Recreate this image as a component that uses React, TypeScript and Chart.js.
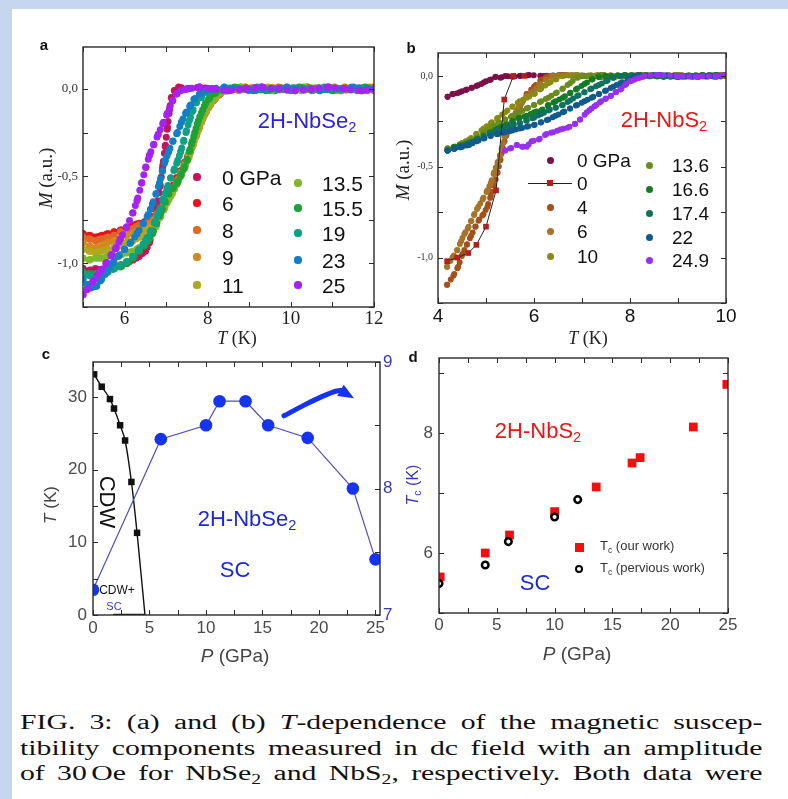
import React, { useEffect, useRef } from "react";
import { Chart, registerables } from "chart.js";

Chart.register(...registerables);

type Pt = [number, number];

// ---------------- Panel a : 2H-NbSe2, M (a.u.) vs T (K) ----------------
const A_LABELS = ["0 GPa", "6", "8", "9", "11", "13.5", "15.5", "19", "23", "25"];
const A_COLORS = ["#c4145a", "#e8141c", "#de6a26", "#d28a1e", "#b2a81e", "#80b82c", "#1fa234", "#0fa184", "#147ec4", "#a324f2"];

const A_0: Pt[] = [[5.0,-1.03],[5.15,-1.04],[5.3,-1.03],[5.45,-1.04],[5.6,-1.03],[5.75,-1.02],[5.9,-1.01],[6.05,-1.0],[6.2,-0.98],[6.35,-0.96],[6.5,-0.93],[6.6,-0.88],[6.7,-0.79],[6.78,-0.68],[6.85,-0.56],[6.92,-0.44],[6.98,-0.33],[7.03,-0.22],[7.08,-0.12],[7.13,-0.05],[7.2,-0.01],[7.3,0.01],[7.5,0.0],[7.8,0.01],[8.1,0.0],[8.5,-0.01],[8.9,0.0],[9.3,0.01],[9.7,0.0],[10.1,-0.01],[10.5,0.0],[10.9,0.01],[11.3,0.0],[11.7,-0.01],[12.0,0.0]];
const A_6: Pt[] = [[5.0,-0.83],[5.15,-0.84],[5.3,-0.85],[5.45,-0.84],[5.6,-0.83],[5.75,-0.82],[5.9,-0.81],[6.05,-0.8],[6.2,-0.78],[6.35,-0.77],[6.5,-0.76],[6.65,-0.73],[6.8,-0.7],[6.93,-0.66],[7.05,-0.6],[7.15,-0.56],[7.25,-0.51],[7.35,-0.47],[7.45,-0.42],[7.55,-0.37],[7.62,-0.32],[7.7,-0.27],[7.78,-0.22],[7.87,-0.17],[7.95,-0.13],[8.05,-0.09],[8.15,-0.06],[8.27,-0.03],[8.4,-0.01],[8.6,0.0],[8.9,0.01],[9.2,0.0],[9.6,-0.01],[10.0,0.0],[10.4,0.01],[10.8,0.0],[11.2,-0.01],[11.6,0.0],[12.0,0.01]];
const A_8: Pt[] = [[5.0,-0.85],[5.15,-0.86],[5.3,-0.87],[5.45,-0.86],[5.6,-0.85],[5.75,-0.84],[5.9,-0.82],[6.05,-0.81],[6.2,-0.8],[6.35,-0.78],[6.5,-0.77],[6.65,-0.75],[6.8,-0.71],[6.93,-0.67],[7.05,-0.62],[7.15,-0.57],[7.25,-0.53],[7.35,-0.48],[7.45,-0.43],[7.55,-0.38],[7.63,-0.33],[7.72,-0.27],[7.8,-0.22],[7.88,-0.17],[7.97,-0.13],[8.07,-0.09],[8.17,-0.06],[8.3,-0.03],[8.45,-0.01],[8.7,0.0],[9.0,-0.01],[9.35,0.0],[9.7,0.01],[10.1,0.0],[10.5,-0.01],[10.9,0.0],[11.3,0.01],[11.7,0.0],[12.0,-0.01]];
const A_9: Pt[] = [[5.0,-0.88],[5.15,-0.9],[5.3,-0.91],[5.45,-0.9],[5.6,-0.88],[5.75,-0.87],[5.9,-0.86],[6.05,-0.84],[6.2,-0.83],[6.35,-0.81],[6.5,-0.79],[6.65,-0.77],[6.8,-0.73],[6.93,-0.68],[7.05,-0.63],[7.15,-0.59],[7.25,-0.54],[7.35,-0.49],[7.45,-0.44],[7.55,-0.38],[7.63,-0.33],[7.72,-0.27],[7.8,-0.22],[7.9,-0.16],[7.98,-0.12],[8.08,-0.08],[8.2,-0.05],[8.33,-0.02],[8.5,0.0],[8.8,0.01],[9.1,0.0],[9.5,-0.01],[9.9,0.0],[10.3,0.01],[10.7,0.0],[11.1,-0.01],[11.5,0.0],[11.9,0.01]];
const A_11: Pt[] = [[5.0,-0.92],[5.15,-0.93],[5.3,-0.94],[5.45,-0.93],[5.6,-0.92],[5.75,-0.91],[5.9,-0.9],[6.05,-0.88],[6.2,-0.87],[6.35,-0.85],[6.5,-0.82],[6.65,-0.79],[6.8,-0.75],[6.93,-0.69],[7.05,-0.64],[7.15,-0.6],[7.25,-0.55],[7.35,-0.5],[7.45,-0.45],[7.55,-0.39],[7.65,-0.32],[7.75,-0.25],[7.85,-0.19],[7.95,-0.13],[8.05,-0.09],[8.17,-0.05],[8.3,-0.02],[8.45,0.0],[8.75,-0.01],[9.05,0.0],[9.45,0.01],[9.85,0.0],[10.25,-0.01],[10.65,0.0],[11.05,0.01],[11.45,0.0],[11.85,-0.01]];
const A_13_5: Pt[] = [[5.0,-0.97],[5.15,-0.98],[5.3,-0.97],[5.45,-0.97],[5.6,-0.96],[5.75,-0.96],[5.9,-0.95],[6.05,-0.94],[6.2,-0.93],[6.35,-0.91],[6.5,-0.88],[6.62,-0.84],[6.75,-0.79],[6.87,-0.73],[6.97,-0.68],[7.07,-0.63],[7.17,-0.58],[7.27,-0.54],[7.37,-0.49],[7.47,-0.43],[7.57,-0.36],[7.66,-0.29],[7.75,-0.23],[7.84,-0.17],[7.93,-0.12],[8.03,-0.08],[8.15,-0.05],[8.3,-0.02],[8.5,0.0],[8.8,0.01],[9.15,0.0],[9.55,-0.01],[9.95,0.0],[10.35,0.01],[10.75,0.0],[11.15,-0.01],[11.55,0.0],[11.95,0.0]];
const A_15_5: Pt[] = [[5.0,-1.05],[5.15,-1.06],[5.3,-1.06],[5.45,-1.05],[5.6,-1.04],[5.75,-1.03],[5.9,-1.02],[6.05,-1.0],[6.2,-0.97],[6.35,-0.93],[6.47,-0.9],[6.57,-0.87],[6.67,-0.83],[6.77,-0.77],[6.87,-0.71],[6.97,-0.65],[7.06,-0.6],[7.16,-0.57],[7.26,-0.54],[7.34,-0.5],[7.42,-0.46],[7.5,-0.41],[7.57,-0.35],[7.63,-0.3],[7.69,-0.25],[7.75,-0.2],[7.81,-0.16],[7.88,-0.12],[7.95,-0.08],[8.05,-0.05],[8.2,-0.02],[8.4,0.0],[8.65,0.01],[9.0,0.0],[9.4,-0.01],[9.8,0.0],[10.2,0.01],[10.6,0.0],[11.0,-0.01],[11.4,0.0],[11.8,0.01]];
const A_19: Pt[] = [[5.0,-1.06],[5.15,-1.07],[5.3,-1.08],[5.45,-1.07],[5.6,-1.05],[5.75,-1.03],[5.9,-1.01],[6.05,-0.99],[6.2,-0.96],[6.35,-0.92],[6.5,-0.87],[6.62,-0.82],[6.73,-0.76],[6.83,-0.7],[6.93,-0.63],[7.02,-0.57],[7.11,-0.51],[7.2,-0.46],[7.28,-0.41],[7.35,-0.36],[7.42,-0.3],[7.49,-0.24],[7.56,-0.18],[7.63,-0.13],[7.72,-0.08],[7.83,-0.05],[7.97,-0.02],[8.15,0.0],[8.45,-0.01],[8.8,0.0],[9.2,0.01],[9.6,0.0],[10.0,-0.01],[10.4,0.0],[10.8,0.01],[11.2,0.0],[11.6,-0.01],[12.0,0.0]];
const A_23: Pt[] = [[5.0,-1.09],[5.1,-1.12],[5.2,-1.14],[5.33,-1.13],[5.45,-1.09],[5.57,-1.05],[5.7,-1.0],[5.85,-0.96],[6.0,-0.92],[6.15,-0.88],[6.3,-0.83],[6.45,-0.77],[6.57,-0.72],[6.67,-0.66],[6.76,-0.6],[6.84,-0.54],[6.91,-0.47],[6.98,-0.41],[7.06,-0.36],[7.16,-0.3],[7.27,-0.25],[7.37,-0.19],[7.47,-0.14],[7.57,-0.1],[7.67,-0.06],[7.8,-0.03],[7.95,-0.01],[8.1,0.0],[8.4,0.01],[8.75,0.0],[9.1,-0.01],[9.5,0.0],[9.9,0.01],[10.3,0.0],[10.7,-0.01],[11.1,0.0],[11.5,0.01],[11.9,0.0]];
const A_25: Pt[] = [[5.0,-1.18],[5.1,-1.15],[5.25,-1.1],[5.4,-1.05],[5.55,-1.0],[5.69,-0.95],[5.8,-0.91],[5.9,-0.86],[6.05,-0.79],[6.2,-0.71],[6.3,-0.64],[6.41,-0.54],[6.51,-0.45],[6.6,-0.38],[6.7,-0.32],[6.81,-0.26],[6.92,-0.2],[7.03,-0.14],[7.15,-0.07],[7.25,-0.03],[7.35,-0.01],[7.5,0.0],[7.8,0.01],[8.1,0.0],[8.5,-0.01],[8.9,0.0],[9.3,0.01],[9.7,0.0],[10.1,-0.01],[10.5,0.0],[10.9,0.01],[11.3,0.0],[11.7,-0.01],[12.0,0.0]];
const A_SERIES = [A_0, A_6, A_8, A_9, A_11, A_13_5, A_15_5, A_19, A_23, A_25];

const A_X_TICKS = [5, 6, 7, 8, 9, 10, 11, 12];
const A_X_LABELS = ["", "6", "", "8", "", "10", "", "12"];
const A_Y_TICKS = [-1.25, -1, -0.75, -0.5, -0.25, 0];
const A_Y_LABELS = ["", "-1,0", "", "-0,5", "", "0,0"];

// ---------------- Panel b : 2H-NbS2, M (a.u.) vs T (K) ----------------
const B_LABELS = ["0 GPa", "0", "4", "6", "10", "13.6", "16.6", "17.4", "22", "24.9"];
const B_COLORS = ["#7c1048", "#b41e1e", "#a4501c", "#a4742a", "#8a8a16", "#6a8c1e", "#157a26", "#10705e", "#125a8c", "#9630f2"];

const B_0: Pt[] = [[4.2,-0.115],[4.3,-0.1],[4.4,-0.095],[4.5,-0.085],[4.6,-0.075],[4.7,-0.065],[4.8,-0.055],[4.9,-0.045],[5.0,-0.03],[5.1,-0.02],[5.2,-0.005],[5.3,-0.01],[5.4,0.0],[5.55,-0.005],[5.7,0.0],[5.9,0.005],[6.2,0.0],[6.6,0.005],[7.0,0.0],[7.4,-0.005],[7.8,0.0],[8.2,0.005],[8.6,0.0],[9.0,-0.005],[9.4,0.0],[9.8,0.005],[10.0,0.0]];
const B_0_LINE: Pt[] = [[4.19,-1.02],[4.4,-1.0],[4.63,-0.975],[4.8,-0.93],[5.0,-0.83],[5.21,-0.63],[5.38,-0.13],[5.57,0.0],[5.8,0.0]];
const B_4: Pt[] = [[4.19,-1.15],[4.32,-1.1],[4.42,-1.05],[4.51,-0.98],[4.6,-0.93],[4.69,-0.88],[4.78,-0.83],[4.86,-0.79],[4.95,-0.76],[5.03,-0.72],[5.1,-0.66],[5.17,-0.6],[5.24,-0.53],[5.3,-0.46],[5.34,-0.4],[5.42,-0.33],[5.55,-0.25],[5.7,-0.17],[5.85,-0.1],[6.0,-0.06],[6.15,-0.02],[6.3,0.0],[6.6,0.005],[7.0,0.0],[7.4,0.005],[7.8,0.0],[8.2,-0.005],[8.6,0.0],[9.0,0.005],[9.4,0.0],[9.8,-0.005],[10.0,0.0]];
const B_6: Pt[] = [[4.19,-1.05],[4.3,-1.0],[4.4,-0.96],[4.48,-0.91],[4.55,-0.87],[4.62,-0.84],[4.69,-0.8],[4.76,-0.76],[4.84,-0.72],[4.93,-0.68],[5.03,-0.63],[5.1,-0.59],[5.17,-0.53],[5.24,-0.48],[5.29,-0.44],[5.33,-0.4],[5.4,-0.33],[5.5,-0.27],[5.64,-0.19],[5.74,-0.15],[5.85,-0.11],[5.99,-0.086],[6.1,-0.05],[6.25,-0.02],[6.4,0.0],[6.7,0.005],[7.1,0.0],[7.5,-0.005],[7.9,0.0],[8.3,0.005],[8.7,0.0],[9.1,-0.005],[9.5,0.0],[9.9,0.005]];
const B_10: Pt[] = [[4.2,-0.4],[4.35,-0.39],[4.5,-0.37],[4.65,-0.35],[4.8,-0.32],[4.95,-0.29],[5.1,-0.26],[5.25,-0.23],[5.4,-0.2],[5.55,-0.17],[5.7,-0.14],[5.85,-0.12],[6.0,-0.1],[6.15,-0.07],[6.3,-0.04],[6.45,-0.02],[6.6,0.0],[6.9,0.005],[7.3,0.0],[7.7,-0.005],[8.1,0.0],[8.5,0.005],[8.9,0.0],[9.3,-0.005],[9.7,0.0],[10.0,0.005]];
const B_13_6: Pt[] = [[4.2,-0.4],[4.35,-0.39],[4.5,-0.38],[4.65,-0.36],[4.8,-0.34],[4.95,-0.31],[5.1,-0.29],[5.25,-0.26],[5.4,-0.24],[5.55,-0.22],[5.7,-0.2],[5.85,-0.18],[6.0,-0.16],[6.15,-0.14],[6.3,-0.12],[6.45,-0.095],[6.6,-0.07],[6.75,-0.04],[6.9,-0.01],[7.05,0.0],[7.4,0.005],[7.8,0.0],[8.2,-0.005],[8.6,0.0],[9.0,0.005],[9.4,0.0],[9.8,-0.005]];
const B_16_6: Pt[] = [[4.2,-0.41],[4.35,-0.39],[4.5,-0.38],[4.65,-0.37],[4.8,-0.35],[4.95,-0.33],[5.1,-0.31],[5.25,-0.29],[5.4,-0.27],[5.55,-0.25],[5.7,-0.23],[5.85,-0.22],[6.0,-0.2],[6.15,-0.19],[6.3,-0.16],[6.45,-0.14],[6.6,-0.12],[6.75,-0.095],[6.9,-0.07],[7.05,-0.045],[7.2,-0.02],[7.35,-0.005],[7.5,0.0],[7.9,0.005],[8.3,0.0],[8.7,-0.005],[9.1,0.0],[9.5,0.005],[9.9,0.0]];
const B_17_4: Pt[] = [[4.2,-0.41],[4.35,-0.4],[4.5,-0.39],[4.65,-0.37],[4.8,-0.36],[4.95,-0.34],[5.1,-0.32],[5.25,-0.3],[5.4,-0.29],[5.55,-0.27],[5.7,-0.26],[5.85,-0.245],[6.0,-0.23],[6.15,-0.21],[6.3,-0.19],[6.45,-0.175],[6.6,-0.16],[6.75,-0.135],[6.9,-0.11],[7.05,-0.09],[7.2,-0.07],[7.35,-0.05],[7.5,-0.03],[7.65,-0.01],[7.8,0.0],[8.2,0.005],[8.6,0.0],[9.0,-0.005],[9.4,0.0],[9.8,0.005]];
const B_22: Pt[] = [[4.2,-0.41],[4.35,-0.4],[4.5,-0.39],[4.65,-0.38],[4.8,-0.36],[4.95,-0.345],[5.1,-0.33],[5.25,-0.32],[5.4,-0.31],[5.55,-0.3],[5.7,-0.29],[5.85,-0.28],[6.0,-0.27],[6.15,-0.255],[6.3,-0.24],[6.45,-0.22],[6.6,-0.2],[6.75,-0.18],[6.9,-0.16],[7.05,-0.14],[7.2,-0.12],[7.35,-0.1],[7.5,-0.08],[7.65,-0.06],[7.8,-0.04],[7.95,-0.02],[8.1,-0.005],[8.25,0.0],[8.6,0.005],[9.0,0.0],[9.4,-0.005],[9.8,0.0],[10.0,0.005]];
const B_24_9: Pt[] = [[5.4,-0.41],[5.5,-0.4],[5.64,-0.38],[5.75,-0.39],[5.85,-0.39],[5.95,-0.36],[6.1,-0.35],[6.26,-0.32],[6.4,-0.31],[6.55,-0.295],[6.7,-0.285],[6.85,-0.265],[6.96,-0.24],[7.1,-0.2],[7.2,-0.18],[7.3,-0.16],[7.4,-0.14],[7.5,-0.125],[7.6,-0.11],[7.7,-0.09],[7.8,-0.075],[7.9,-0.05],[8.0,-0.03],[8.1,-0.02],[8.2,-0.01],[8.3,0.0],[8.6,0.005],[9.0,0.0],[9.4,-0.005],[9.8,0.0],[10.0,0.005]];
const B_DOT_SERIES = [B_0, null, B_4, B_6, B_10, B_13_6, B_16_6, B_17_4, B_22, B_24_9];

const B_X_TICKS = [4, 5, 6, 7, 8, 9, 10];
const B_X_LABELS = ["4", "", "6", "", "8", "", "10"];
const B_Y_TICKS = [-1.25, -1, -0.75, -0.5, -0.25, 0];
const B_Y_LABELS = ["", "-1,0", "", "-0,5", "", "0,0"];

// ---------------- Panel c : 2H-NbSe2 phase diagram ----------------
const C_CDW_P = [0.1, 0.77, 1.5, 1.86, 2.4, 2.84, 3.4, 3.9];
const C_CDW_T = [33.1, 31.4, 29.7, 28.4, 26.1, 24.0, 18.3, 11.3];
const C_CDW_END: Pt = [4.6, 0];
const C_BASE_P = [1.8, 4.6];
const C_BASE_T = [0, 0];
const C_SC_P = [0, 6, 10, 11.2, 13.5, 15.5, 19, 23, 25];
const C_SC_TC = [7.2, 8.39, 8.5, 8.69, 8.69, 8.5, 8.4, 8.0, 7.44];
const C_ARROW_P = [16.9, 18.6, 20.2, 21.3, 21.9];
const C_ARROW_T = [27.4, 28.8, 30.0, 30.7, 30.9];
const C_ARROW_TIP: Pt = [23.1, 29.8];

const C_X_TICKS = [0, 2.5, 5, 7.5, 10, 12.5, 15, 17.5, 20, 22.5, 25];
const C_X_LABELS = ["0", "", "5", "", "10", "", "15", "", "20", "", "25"];
const C_Y_TICKS = [0, 5, 10, 15, 20, 25, 30];
const C_Y_LABELS = ["0", "", "10", "", "20", "", "30"];
const C_Y2_TICKS = [7, 7.5, 8, 8.5, 9];
const C_Y2_LABELS = ["7", "", "8", "", "9"];

// ---------------- Panel d : 2H-NbS2, Tc vs P ----------------
const D_OUR_P = [0.1, 4, 6.1, 10, 13.6, 16.7, 17.4, 22, 24.9];
const D_OUR_TC = [5.6, 6.0, 6.3, 6.69, 7.1, 7.5, 7.59, 8.1, 8.81];
const D_PREV_P = [0, 4, 6, 10, 12];
const D_PREV_TC = [5.49, 5.8, 6.19, 6.6, 6.89];

const D_X_TICKS = [0, 2.5, 5, 7.5, 10, 12.5, 15, 17.5, 20, 22.5, 25];
const D_X_LABELS = ["0", "", "5", "", "10", "", "15", "", "20", "", "25"];
const D_Y_TICKS = [5, 6, 7, 8, 9];
const D_Y_LABELS = ["", "6", "", "8", ""];

// ---------------- helpers ----------------
const toXY = (pts: Pt[]) => pts.map(([x, y]) => ({ x, y }));
const zip = (xs: number[], ys: number[]) => xs.map((x, i) => ({ x, y: ys[i] }));

const SANS = "'Liberation Sans', Arial, sans-serif";
const SERIF = "'Liberation Serif', 'Times New Roman', serif";

function linAxis(o: any) {
  return {
    type: "linear",
    position: o.position,
    min: o.min,
    max: o.max,
    afterBuildTicks: (sc: any) => {
      sc.ticks = o.ticks.map((v: number) => ({ value: v }));
    },
    afterFit: (sc: any) => {
      if (o.horizontal) sc.height = o.size;
      else sc.width = o.size;
    },
    grid: { display: false, drawTicks: false },
    border: { display: false },
    ticks: {
      autoSkip: false,
      maxRotation: 0,
      minRotation: 0,
      padding: o.pad,
      color: o.color,
      font: o.font,
      callback: (_v: any, i: number) => o.labels[i],
    },
  };
}

function frameTicks(spec: Record<string, string[]>, len: number) {
  return {
    id: "frameTicks",
    afterDraw(chart: any) {
      const { ctx, chartArea: ca } = chart;
      ctx.save();
      ctx.strokeStyle = "#2a2a2a";
      ctx.lineWidth = 1;
      ctx.beginPath();
      for (const id of Object.keys(spec)) {
        const sc = chart.scales[id];
        const sides = spec[id];
        for (const t of sc.ticks) {
          const p = Math.round(sc.getPixelForValue(t.value)) + 0.5;
          if (sc.isHorizontal()) {
            if (sides.includes("bottom")) { ctx.moveTo(p, ca.bottom); ctx.lineTo(p, ca.bottom - len); }
            if (sides.includes("top")) { ctx.moveTo(p, ca.top); ctx.lineTo(p, ca.top + len); }
          } else {
            if (sides.includes("left")) { ctx.moveTo(ca.left, p); ctx.lineTo(ca.left + len, p); }
            if (sides.includes("right")) { ctx.moveTo(ca.right, p); ctx.lineTo(ca.right - len, p); }
          }
        }
      }
      ctx.stroke();
      ctx.lineWidth = 1.4;
      ctx.strokeRect(ca.left, ca.top, ca.right - ca.left, ca.bottom - ca.top);
      ctx.restore();
    },
  };
}

// arrow head for panel c, drawn from the arrow dataset's last point to the tip value
const arrowHead = {
  id: "arrowHead",
  afterDatasetsDraw(chart: any) {
    const { ctx } = chart;
    const xs = chart.scales.x;
    const ys = chart.scales.y;
    const n = C_ARROW_P.length - 1;
    const bx = xs.getPixelForValue(C_ARROW_P[n]);
    const by = ys.getPixelForValue(C_ARROW_T[n]);
    const tx = xs.getPixelForValue(C_ARROW_TIP[0]);
    const ty = ys.getPixelForValue(C_ARROW_TIP[1]);
    const ang = Math.atan2(ty - by, tx - bx);
    const w = 6.5;
    ctx.save();
    ctx.fillStyle = "#1634ee";
    ctx.beginPath();
    ctx.moveTo(tx, ty);
    ctx.lineTo(bx - w * Math.sin(ang), by + w * Math.cos(ang));
    ctx.lineTo(bx + w * Math.sin(ang), by - w * Math.cos(ang));
    ctx.closePath();
    ctx.fill();
    ctx.restore();
  },
};

function baseOptions(padding: any, scales: any) {
  return {
    animation: false,
    responsive: false,
    maintainAspectRatio: false,
    devicePixelRatio: 1,
    events: [],
    layout: { padding },
    plugins: { legend: { display: false }, tooltip: { enabled: false } },
    scales,
  };
}

// ---------------- chart builders ----------------
function buildA() {
  const datasets = A_SERIES.map((pts, i) => ({
    label: A_LABELS[i],
    data: toXY(pts),
    showLine: true,
    borderColor: A_COLORS[i],
    backgroundColor: A_COLORS[i],
    borderWidth: 7,
    borderDash: [0, 8],
    borderCapStyle: "round",
    borderJoinStyle: "round",
    pointRadius: 3.6,
    pointBorderWidth: 0,
    pointBackgroundColor: A_COLORS[i],
  })).reverse();
  return {
    type: "scatter",
    data: { datasets },
    options: baseOptions({ left: 0, top: 38, right: 26, bottom: 0 }, {
      x: linAxis({ horizontal: true, min: 5, max: 12, ticks: A_X_TICKS, labels: A_X_LABELS, size: 33, pad: 1, color: "#222", font: { family: SERIF, size: 19 } }),
      y: linAxis({ horizontal: false, min: -1.25, max: 0.24, ticks: A_Y_TICKS, labels: A_Y_LABELS, size: 71, pad: 5, color: "#333", font: { family: SERIF, size: 13 } }),
    }),
    plugins: [frameTicks({ x: ["bottom", "top"], y: ["left", "right"] }, 5)],
  };
}

function buildB() {
  const datasets: any[] = [];
  B_DOT_SERIES.forEach((pts, i) => {
    if (pts === null) {
      datasets.push({
        label: B_LABELS[i],
        data: toXY(B_0_LINE),
        showLine: true,
        borderColor: "#222",
        borderWidth: 1,
        pointStyle: "rect",
        pointRadius: 4,
        pointBorderWidth: 0,
        pointBackgroundColor: B_COLORS[i],
      });
    } else {
      datasets.push({
        label: B_LABELS[i],
        data: toXY(pts),
        showLine: true,
        borderColor: B_COLORS[i],
        backgroundColor: B_COLORS[i],
        borderWidth: 6,
        borderDash: [0, 6.5],
        borderCapStyle: "round",
        borderJoinStyle: "round",
        pointRadius: 3,
        pointBorderWidth: 0,
        pointBackgroundColor: B_COLORS[i],
      });
    }
  });
  const lineDs = datasets.splice(1, 1)[0];
  const ordered = [lineDs, ...datasets.reverse()];
  return {
    type: "scatter",
    data: { datasets: ordered },
    options: baseOptions({ left: 0, top: 44, right: 62, bottom: 0 }, {
      x: linAxis({ horizontal: true, min: 4, max: 10, ticks: B_X_TICKS, labels: B_X_LABELS, size: 37, pad: 2, color: "#111", font: { family: SANS, size: 19 } }),
      y: linAxis({ horizontal: false, min: -1.25, max: 0.126, ticks: B_Y_TICKS, labels: B_Y_LABELS, size: 38, pad: 5, color: "#333", font: { family: SERIF, size: 10 } }),
    }),
    plugins: [frameTicks({ x: ["bottom", "top"], y: ["left", "right"] }, 5)],
  };
}

function buildC() {
  const blue = "#1634ee";
  const datasets = [
    {
      label: "SC",
      data: zip(C_SC_P, C_SC_TC),
      yAxisID: "y2",
      showLine: true,
      borderColor: "#4e4ec4",
      borderWidth: 1.2,
      pointRadius: 6.3,
      pointBorderWidth: 0,
      pointBackgroundColor: blue,
    },
    {
      label: "arrow",
      data: zip(C_ARROW_P, C_ARROW_T),
      yAxisID: "y",
      showLine: true,
      borderColor: blue,
      borderWidth: 5,
      borderCapStyle: "round",
      tension: 0.3,
      pointRadius: 0,
    },
    {
      label: "CDW points",
      data: zip(C_CDW_P, C_CDW_T),
      yAxisID: "y",
      showLine: false,
      pointStyle: "rect",
      pointRadius: 4.6,
      pointBorderWidth: 0,
      pointBackgroundColor: "#111",
    },
    {
      label: "CDW boundary",
      data: [...zip(C_CDW_P, C_CDW_T), { x: C_CDW_END[0], y: C_CDW_END[1] }],
      yAxisID: "y",
      showLine: true,
      borderColor: "#111",
      borderWidth: 1.4,
      cubicInterpolationMode: "monotone",
      pointRadius: 0,
    },
    {
      label: "base",
      data: zip(C_BASE_P, C_BASE_T),
      yAxisID: "y",
      showLine: true,
      borderColor: "#111",
      borderWidth: 2.5,
      pointRadius: 0,
    },
  ];
  return {
    type: "scatter",
    data: { datasets },
    options: baseOptions({ left: 0, top: 22, right: 0, bottom: 0 }, {
      x: linAxis({ horizontal: true, min: 0, max: 25.4, ticks: C_X_TICKS, labels: C_X_LABELS, size: 55, pad: 3, color: "#4a4a4a", font: { family: SANS, size: 17 } }),
      y: linAxis({ horizontal: false, position: "left", min: 0, max: 34.8, ticks: C_Y_TICKS, labels: C_Y_LABELS, size: 81, pad: 6, color: "#4a4a4a", font: { family: SANS, size: 17 } }),
      y2: linAxis({ horizontal: false, position: "right", min: 7, max: 9, ticks: C_Y2_TICKS, labels: C_Y2_LABELS, size: 20, pad: 3, color: "#3a3ab8", font: { family: SANS, size: 17 } }),
    }),
    plugins: [arrowHead, frameTicks({ x: ["bottom", "top"], y: ["left"], y2: ["right"] }, 5)],
  };
}

function buildD() {
  const datasets = [
    {
      label: "Tc (pervious work)",
      data: zip(D_PREV_P, D_PREV_TC),
      showLine: false,
      pointStyle: "circle",
      pointRadius: 3.3,
      pointBorderWidth: 2.5,
      pointBorderColor: "#000",
      pointBackgroundColor: "#fff",
    },
    {
      label: "Tc (our work)",
      data: zip(D_OUR_P, D_OUR_TC),
      showLine: false,
      pointStyle: "rect",
      pointRadius: 6.2,
      pointBorderWidth: 0,
      pointBackgroundColor: "#f01010",
    },
  ];
  return {
    type: "scatter",
    data: { datasets },
    options: baseOptions({ left: 0, top: 18, right: 60, bottom: 0 }, {
      x: linAxis({ horizontal: true, min: 0, max: 25, ticks: D_X_TICKS, labels: D_X_LABELS, size: 57, pad: 2, color: "#4a4a4a", font: { family: SANS, size: 17 } }),
      y: linAxis({ horizontal: false, min: 5, max: 9.25, ticks: D_Y_TICKS, labels: D_Y_LABELS, size: 39, pad: 6, color: "#4a4a4a", font: { family: SANS, size: 17 } }),
    }),
    plugins: [frameTicks({ x: ["bottom", "top"], y: ["left", "right"] }, 5)],
  };
}

// ---------------- React components ----------------
function ChartCanvas({ left, top, width, height, build }: any) {
  const ref = useRef<HTMLCanvasElement>(null);
  useEffect(() => {
    const chart = new Chart(ref.current as HTMLCanvasElement, build());
    return () => chart.destroy();
  }, []);
  return (
    <canvas
      ref={ref}
      width={width}
      height={height}
      style={{ position: "absolute", left, top, width, height }}
    />
  );
}

function Txt({ x, y, rot = 0, style, children }: any) {
  return (
    <div
      style={{
        position: "absolute",
        left: x,
        top: y,
        transform: `translate(-50%, -50%) rotate(${rot}deg)`,
        whiteSpace: "nowrap",
        lineHeight: 1,
        ...style,
      }}
    >
      {children}
    </div>
  );
}

function LTxt({ x, y, style, children }: any) {
  return (
    <div
      style={{
        position: "absolute",
        left: x,
        top: y,
        transform: "translateY(-50%)",
        whiteSpace: "nowrap",
        lineHeight: 1,
        ...style,
      }}
    >
      {children}
    </div>
  );
}

function Dot({ x, y, r, color, square, ring }: any) {
  const s = r * 2;
  return (
    <div
      style={{
        position: "absolute",
        left: x - r,
        top: y - r,
        width: s,
        height: s,
        boxSizing: "border-box",
        borderRadius: square ? 0 : "50%",
        background: ring ? "#fff" : color,
        border: ring ? `2.5px solid ${color}` : "none",
      }}
    />
  );
}

const Sub = ({ children }: any) => (
  <span style={{ fontSize: "0.66em", verticalAlign: "-0.3em" }}>{children}</span>
);

const A_LEG_POS = [
  [197, 177], [197, 203], [197, 230], [197, 257], [197, 285],
  [298, 183], [298, 208], [298, 233], [298, 260], [298, 285],
];
const B_LEG_POS = [
  [550, 160], [550, 183], [550, 207], [550, 231], [550, 256],
  [649, 165], [649, 189], [649, 213], [649, 237], [649, 260],
];

export default function App() {
  const lblStyle = { fontFamily: SANS, fontWeight: 700, fontSize: 15, color: "#111" };
  return (
    <div style={{ position: "absolute", left: 0, top: 0, width: 788, height: 799, background: "#c7d6ef", overflow: "hidden" }}>
      <div style={{ position: "absolute", left: 12, top: 9, right: 0, bottom: 0, background: "#fff" }} />

      <ChartCanvas left={12} top={9} width={388} height={331} build={buildA} />
      <ChartCanvas left={400} top={9} width={388} height={331} build={buildB} />
      <ChartCanvas left={12} top={340} width={388} height={330} build={buildC} />
      <ChartCanvas left={400} top={340} width={388} height={330} build={buildD} />

      {/* Panel a */}
      <Txt x={44} y={44} style={lblStyle}>a</Txt>
      <Txt x={45} y={178} rot={-90} style={{ fontFamily: SERIF, fontSize: 19, color: "#222" }}>
        <i>M</i> (a.u.)
      </Txt>
      <Txt x={237} y={338} style={{ fontFamily: SERIF, fontSize: 18, color: "#222" }}>
        <i>T</i> (K)
      </Txt>
      <Txt x={307} y={122} style={{ fontFamily: SANS, fontSize: 22, color: "#2c22dc" }}>
        2H-NbSe<Sub>2</Sub>
      </Txt>
      {A_LABELS.map((l, i) => (
        <React.Fragment key={"al" + i}>
          <Dot x={A_LEG_POS[i][0]} y={A_LEG_POS[i][1]} r={3.6} color={A_COLORS[i]} />
          <LTxt x={A_LEG_POS[i][0] + (i < 5 ? 25 : 24)} y={A_LEG_POS[i][1]} style={{ fontFamily: SANS, fontSize: 21, color: "#111" }}>{l}</LTxt>
        </React.Fragment>
      ))}

      {/* Panel b */}
      <Txt x={411} y={47} style={lblStyle}>b</Txt>
      <Txt x={402} y={170} rot={-90} style={{ fontFamily: SERIF, fontSize: 19, color: "#222" }}>
        <i>M</i> (a.u.)
      </Txt>
      <Txt x={588} y={338} style={{ fontFamily: SERIF, fontSize: 18, color: "#222" }}>
        <i>T</i> (K)
      </Txt>
      <Txt x={664} y={121} style={{ fontFamily: SANS, fontSize: 22, color: "#ee1414" }}>
        2H-NbS<Sub>2</Sub>
      </Txt>
      <div style={{ position: "absolute", left: 528, top: 183, width: 44, height: 1, background: "#222" }} />
      {B_LABELS.map((l, i) => (
        <React.Fragment key={"bl" + i}>
          <Dot x={B_LEG_POS[i][0]} y={B_LEG_POS[i][1]} r={i === 1 ? 3 : 3.5} square={i === 1} color={B_COLORS[i]} />
          <LTxt x={B_LEG_POS[i][0] + (i < 5 ? 27 : 23)} y={B_LEG_POS[i][1]} style={{ fontFamily: SANS, fontSize: 19, color: "#111" }}>{l}</LTxt>
        </React.Fragment>
      ))}

      {/* Panel c */}
      <Txt x={46} y={353} style={lblStyle}>c</Txt>
      <Txt x={50} y={505} rot={-90} style={{ fontFamily: SANS, fontSize: 17, color: "#444" }}>
        <i>T</i> (K)
      </Txt>
      <Txt x={235} y={655} style={{ fontFamily: SANS, fontSize: 19, color: "#444" }}>
        <i>P</i> (GPa)
      </Txt>
      <Txt x={414} y={485} rot={-90} style={{ fontFamily: SANS, fontSize: 16, color: "#3a3ab8" }}>
        <i>T</i><Sub>c</Sub> (K)
      </Txt>
      <Txt x={107} y={502} rot={90} style={{ fontFamily: SANS, fontSize: 22, color: "#111" }}>CDW</Txt>
      <Txt x={247} y={520} style={{ fontFamily: SANS, fontSize: 22, color: "#1c2ad6" }}>
        2H-NbSe<Sub>2</Sub>
      </Txt>
      <Txt x={235} y={570} style={{ fontFamily: SANS, fontSize: 22, color: "#1c2ad6" }}>SC</Txt>
      <Txt x={117} y={590} style={{ fontFamily: SANS, fontSize: 12, color: "#111" }}>CDW+</Txt>
      <Txt x={114} y={606} style={{ fontFamily: SANS, fontSize: 11, color: "#3a3ab8" }}>SC</Txt>

      {/* Panel d */}
      <Txt x={413} y={356} style={lblStyle}>d</Txt>
      <Txt x={577} y={653} style={{ fontFamily: SANS, fontSize: 19, color: "#444" }}>
        <i>P</i> (GPa)
      </Txt>
      <Txt x={538} y={432} style={{ fontFamily: SANS, fontSize: 22, color: "#ee1414" }}>
        2H-NbS<Sub>2</Sub>
      </Txt>
      <Txt x={535} y={583} style={{ fontFamily: SANS, fontSize: 22, color: "#1c2ad6" }}>SC</Txt>
      <Dot x={579} y={547} r={4.5} square color="#f01010" />
      <LTxt x={600} y={547} style={{ fontFamily: SANS, fontSize: 13, color: "#333" }}>
        T<Sub>c</Sub> (our work)
      </LTxt>
      <Dot x={579} y={569} r={4.4} ring color="#000" />
      <LTxt x={600} y={569} style={{ fontFamily: SANS, fontSize: 13, color: "#333" }}>
        T<Sub>c</Sub> (pervious work)
      </LTxt>

      {/* Caption */}
      <div style={{ position: "absolute", left: 20, top: 710, fontFamily: SERIF, fontSize: 20.5, lineHeight: "25.5px", color: "#111" }}>
        {[
          <>FIG. 3: (a) and (b) <i>T</i>-dependence of the magnetic suscep-</>,
          <>tibility components measured in dc field with an amplitude</>,
          <>of 30<span style={{ marginLeft: 3 }}>Oe</span> for NbSe<Sub>2</Sub> and NbS<Sub>2</Sub>, respectively. Both data were</>,
        ].map((line, i) => (
          <div
            key={"cap" + i}
            style={{
              width: 512,
              height: 25.5,
              textAlign: "justify",
              textAlignLast: "justify",
              transform: "scaleX(1.45)",
              transformOrigin: "left top",
            }}
          >
            {line}
          </div>
        ))}
      </div>
    </div>
  );
}
